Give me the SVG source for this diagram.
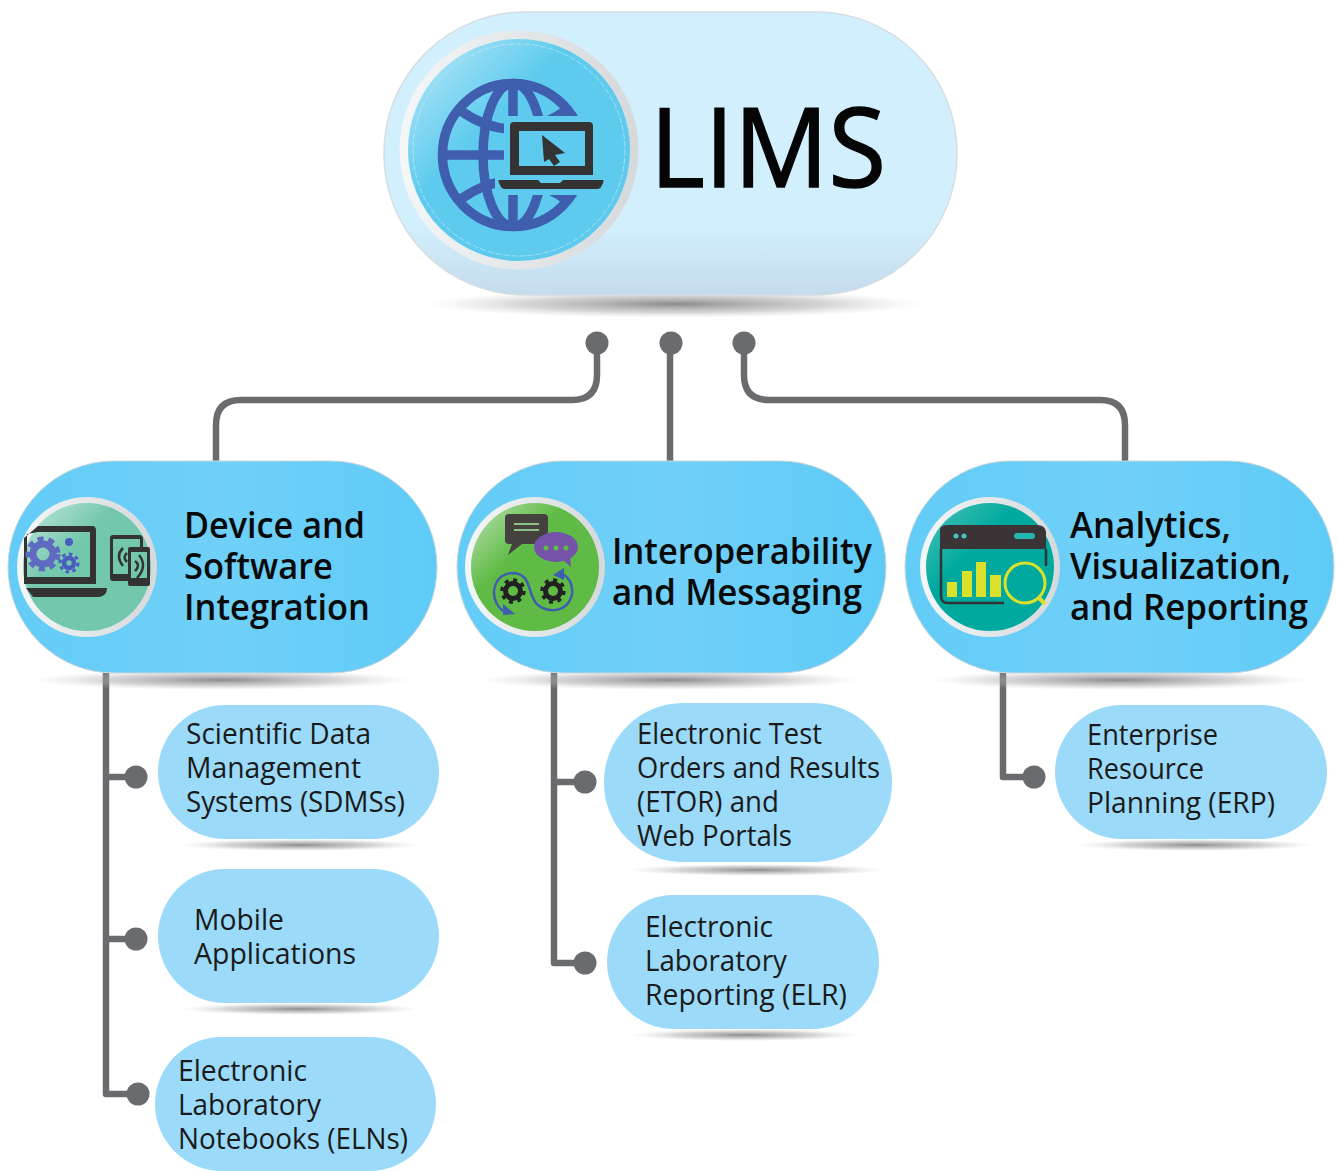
<svg xmlns="http://www.w3.org/2000/svg" width="1337" height="1171" viewBox="0 0 1337 1171">
<style>
text{font-family:"Open Sans","Noto Sans","Liberation Sans",sans-serif;fill:#0a0a0a}
.h{font-size:36px;font-weight:600}
.s{font-size:30px;font-weight:400;fill:#1a1a1a}
.c{fill:none;stroke:#6a6b6e;stroke-width:6.5;stroke-linejoin:round}
.d{fill:#6a6b6e}
.lv2{fill:url(#g2);stroke:#c9d3da;stroke-width:1}
.lv3{fill:#9bdaf9}
.dk{fill:#333}
</style>
<defs>
<linearGradient id="g1" x1="0" y1="0" x2="0" y2="1"><stop offset="0" stop-color="#d2effe"/><stop offset=".76" stop-color="#d2effe"/><stop offset="1" stop-color="#c4dbea"/></linearGradient>
<linearGradient id="g2" x1="0" y1="0" x2="1" y2="0"><stop offset="0" stop-color="#62ccf7"/><stop offset=".5" stop-color="#70d0f8"/><stop offset="1" stop-color="#5ecbf7"/></linearGradient>
<radialGradient id="sh"><stop offset="0" stop-color="#777" stop-opacity=".85"/><stop offset=".6" stop-color="#aaa" stop-opacity=".5"/><stop offset="1" stop-color="#ccc" stop-opacity="0"/></radialGradient>
<linearGradient id="gloss" x1="0" y1="0" x2=".75" y2=".75"><stop offset="0" stop-color="#fff" stop-opacity=".6"/><stop offset=".5" stop-color="#fff" stop-opacity="0"/></linearGradient>
<linearGradient id="rg" x1="0" y1="0" x2="1" y2="0"><stop offset="0" stop-color="#f4f6f7"/><stop offset="1" stop-color="#d5d9db"/></linearGradient>
</defs>

<g id="connectors">
<path class="c" d="M597 343V375Q597 400 572 400H241Q216 400 216 425V462"/>
<path class="c" d="M670 343V462"/>
<path class="c" d="M744 343V375Q744 400 769 400H1100Q1125 400 1125 425V462"/>
<circle class="d" cx="597" cy="343" r="11.5"/><circle class="d" cx="671" cy="343" r="11.5"/><circle class="d" cx="744" cy="343" r="11.5"/>
<path class="c" d="M106 673V1094H136M106 777H136M106 939H136"/>
<circle class="d" cx="136" cy="777" r="11.5"/><circle class="d" cx="136" cy="939" r="11.5"/><circle class="d" cx="138" cy="1094" r="11.5"/>
<path class="c" d="M554 673V963H585M554 782H585"/>
<circle class="d" cx="585" cy="782" r="11.5"/><circle class="d" cx="585" cy="963" r="11.5"/>
<path class="c" d="M1003 673V777H1034"/>
<circle class="d" cx="1034" cy="777" r="11.5"/>
</g>

<g id="lims">
<ellipse cx="675" cy="304" rx="250" ry="14" fill="url(#sh)"/>
<rect x="384" y="12" width="573" height="283" rx="141" fill="url(#g1)" stroke="#d5dde2" stroke-width="1.5"/>
<circle cx="519" cy="150" r="119.5" fill="url(#rg)"/>
<circle cx="519" cy="150" r="111" fill="#5ecbee"/>
<circle cx="519" cy="150" r="111" fill="url(#gloss)"/>
<circle cx="519" cy="150" r="106" fill="none" stroke="#bfe8f8" stroke-width=".7" stroke-dasharray="6 2"/>
<g fill="none" stroke="#3f5fae" stroke-width="9.5">
<ellipse cx="513" cy="155" rx="70.5" ry="71.5"/>
<ellipse cx="513" cy="155" rx="30" ry="71.5"/>
<path d="M513 84V226M443 155H513M461 111Q487 129 513 129T565 111M461 199Q487 181 513 181T565 199"/>
</g>
<path fill="#5ecbee" d="M504 116H600V195H495V176H504Z"/>
<path class="dk" fill-rule="evenodd" d="M514 122H589Q593 122 593 126V175H510V126Q510 122 514 122ZM519 131V166H585V131Z"/>
<path class="dk" d="M499 180H538L541 183H560L563 180H603Q604 180 603 183L601 187Q600 189 596 189H506Q502 189 501 187L499 183Q498 180 499 180Z"/>
<path class="dk" d="M542 135L565 153L555 155L560 162L554 166L549 159L544 162Z"/>
<text x="650" y="187" font-size="110" style="fill:#050505;font-size:110px;stroke:#050505;stroke-width:1.6px" textLength="236" lengthAdjust="spacingAndGlyphs">LIMS</text>
</g>

<g id="device">
<ellipse cx="222" cy="680" rx="190" ry="10" fill="url(#sh)"/>
<rect class="lv2" x="8" y="461" width="429" height="212" rx="106"/>
<circle cx="87" cy="567" r="70" fill="url(#rg)"/>
<circle cx="87" cy="567" r="64" fill="#73c7ad"/><circle cx="87" cy="567" r="64" fill="url(#gloss)"/>
<path class="dk" fill-rule="evenodd" d="M38 526H92Q96 526 96 530V584H24V538ZM27 534V577H90V532H38Z"/>
<path class="dk" d="M26 588H107Q107 596 99 597H33Z"/>
<circle cx="43" cy="554" r="10" fill="none" stroke="#5e6bc0" stroke-width="7"/>
<circle cx="43" cy="554" r="15" fill="none" stroke="#5e6bc0" stroke-width="5" stroke-dasharray="6 4.8"/>
<circle cx="69" cy="563" r="5" fill="none" stroke="#4a5cc0" stroke-width="4.5"/>
<circle cx="69" cy="563" r="9" fill="none" stroke="#4a5cc0" stroke-width="3" stroke-dasharray="3.5 3.5"/>
<circle cx="69" cy="542" r="4" fill="#4a5cc0"/>
<path class="dk" fill-rule="evenodd" d="M113 535H139Q143 535 143 539V581H113Q110 581 110 578V538Q110 535 113 535ZM113 539V574H140V539Z"/>
<rect x="128" y="547" width="22" height="39" rx="2" class="dk"/>
<rect x="131" y="552" width="16" height="26" fill="#73c7ad"/>
<path fill="none" stroke="#333" stroke-width="2.5" d="M123 548Q115 556 123 566M127 553Q122 557 127 562M135 561Q141 565 135 571M139 555Q148 566 137 578"/>
<text class="h" x="184" y="538" textLength="181" lengthAdjust="spacingAndGlyphs">Device and</text>
<text class="h" x="184" y="579" textLength="149" lengthAdjust="spacingAndGlyphs">Software</text>
<text class="h" x="184" y="620" textLength="186" lengthAdjust="spacingAndGlyphs">Integration</text>
</g>

<g id="interop">
<ellipse cx="670" cy="680" rx="190" ry="10" fill="url(#sh)"/>
<rect class="lv2" x="457" y="461" width="429" height="212" rx="106"/>
<circle cx="535" cy="567" r="70" fill="url(#rg)"/>
<circle cx="535" cy="567" r="64" fill="#5fbb46"/><circle cx="535" cy="567" r="64" fill="url(#gloss)"/>
<path d="M509 514H544Q548 514 548 518V540Q548 544 544 544H522L508 555L512 544H509Q505 544 505 540V518Q505 514 509 514Z" fill="#45413f"/>
<path d="M514 524H539M514 530H539" stroke="#8cc084" stroke-width="2"/>
<ellipse cx="556" cy="547" rx="22" ry="15" fill="#7453a8"/>
<path d="M562 559L571 567L570 556Z" fill="#7453a8"/>
<circle cx="546" cy="548" r="2.5" fill="#5fbb46"/><circle cx="556" cy="548" r="2.5" fill="#5fbb46"/><circle cx="566" cy="548" r="2.5" fill="#5fbb46"/>
<g fill="none" stroke="#222">
<circle cx="513" cy="591" r="7.5" stroke-width="5"/><circle cx="513" cy="591" r="11" stroke-width="3.5" stroke-dasharray="4 4.6"/>
<circle cx="553" cy="591" r="7.5" stroke-width="5"/><circle cx="553" cy="591" r="11" stroke-width="3.5" stroke-dasharray="4 4.6"/>
</g>
<path fill="none" stroke="#3f5fae" stroke-width="2.5" d="M507 613C488 605 490 574 512 573C530 573 528 590 534 600C540 613 568 616 572 594C573 585 569 578 563 574"/>
<path fill="#3f5fae" d="M503 604L515 614L503 615ZM553 575L564 568L564 580Z"/>
<text class="h" x="612" y="564" textLength="260" lengthAdjust="spacingAndGlyphs">Interoperability</text>
<text class="h" x="612" y="605" textLength="250" lengthAdjust="spacingAndGlyphs">and Messaging</text>
</g>

<g id="analytics">
<ellipse cx="1120" cy="680" rx="190" ry="10" fill="url(#sh)"/>
<rect class="lv2" x="905" y="461" width="429" height="212" rx="106"/>
<circle cx="990" cy="567" r="70" fill="url(#rg)"/>
<circle cx="990" cy="567" r="64" fill="#00a99d"/><circle cx="990" cy="567" r="64" fill="url(#gloss)" opacity=".5"/>
<path d="M940 549V530Q940 525 948 525H1037Q1045 525 1046 532V549Z" fill="#3a3436"/>
<circle cx="956" cy="536" r="2.5" fill="#4cc4be"/><circle cx="964" cy="536" r="2.5" fill="#4cc4be"/>
<rect x="1014" y="533" width="21" height="6" rx="3" fill="#24b5ad"/>
<path d="M941 549V596Q941 603 948 603H1004M1046 549V566" fill="none" stroke="#333" stroke-width="2.5"/>
<g fill="#dbe02c"><rect x="947" y="582" width="10" height="15"/><rect x="962" y="571" width="10" height="26"/><rect x="976" y="562" width="10" height="35"/><rect x="990" y="575" width="11" height="22"/></g>
<circle cx="1025" cy="583" r="20" fill="none" stroke="#dbe02c" stroke-width="3"/>
<path d="M1039 598L1045 604" stroke="#dbe02c" stroke-width="4"/>
<text class="h" x="1070" y="538" textLength="161" lengthAdjust="spacingAndGlyphs">Analytics,</text>
<text class="h" x="1070" y="579" textLength="221" lengthAdjust="spacingAndGlyphs">Visualization,</text>
<text class="h" x="1070" y="620" textLength="238" lengthAdjust="spacingAndGlyphs">and Reporting</text>
</g>

<g id="sdms">
<ellipse cx="300" cy="845" rx="120" ry="6" fill="url(#sh)"/>
<rect class="lv3" x="158" y="705" width="281" height="134" rx="67"/>
<text class="s" x="186" y="744" textLength="185" lengthAdjust="spacingAndGlyphs">Scientific Data</text>
<text class="s" x="186" y="778" textLength="175" lengthAdjust="spacingAndGlyphs">Management</text>
<text class="s" x="186" y="812" textLength="219" lengthAdjust="spacingAndGlyphs">Systems (SDMSs)</text>
</g>
<g id="mobile">
<ellipse cx="300" cy="1009" rx="120" ry="6" fill="url(#sh)"/>
<rect class="lv3" x="158" y="869" width="281" height="134" rx="67"/>
<text class="s" x="194" y="930" textLength="90" lengthAdjust="spacingAndGlyphs">Mobile</text>
<text class="s" x="194" y="964" textLength="162" lengthAdjust="spacingAndGlyphs">Applications</text>
</g>
<g id="eln">
<rect class="lv3" x="155" y="1037" width="281" height="134" rx="67"/>
<text class="s" x="178" y="1081" textLength="129" lengthAdjust="spacingAndGlyphs">Electronic</text>
<text class="s" x="178" y="1115" textLength="143" lengthAdjust="spacingAndGlyphs">Laboratory</text>
<text class="s" x="178" y="1149" textLength="230" lengthAdjust="spacingAndGlyphs">Notebooks (ELNs)</text>
</g>
<g id="etor">
<ellipse cx="757" cy="870" rx="130" ry="6" fill="url(#sh)"/>
<rect class="lv3" x="604" y="703" width="288" height="159" rx="79"/>
<text class="s" x="637" y="744" textLength="185" lengthAdjust="spacingAndGlyphs">Electronic Test</text>
<text class="s" x="637" y="778" textLength="243" lengthAdjust="spacingAndGlyphs">Orders and Results</text>
<text class="s" x="637" y="812" textLength="142" lengthAdjust="spacingAndGlyphs">(ETOR) and</text>
<text class="s" x="637" y="846" textLength="155" lengthAdjust="spacingAndGlyphs">Web Portals</text>
</g>
<g id="elr">
<ellipse cx="745" cy="1035" rx="115" ry="6" fill="url(#sh)"/>
<rect class="lv3" x="607" y="895" width="272" height="134" rx="67"/>
<text class="s" x="645" y="937" textLength="128" lengthAdjust="spacingAndGlyphs">Electronic</text>
<text class="s" x="645" y="971" textLength="142" lengthAdjust="spacingAndGlyphs">Laboratory</text>
<text class="s" x="645" y="1005" textLength="202" lengthAdjust="spacingAndGlyphs">Reporting (ELR)</text>
</g>
<g id="erp">
<ellipse cx="1195" cy="845" rx="118" ry="6" fill="url(#sh)"/>
<rect class="lv3" x="1055" y="705" width="272" height="134" rx="67"/>
<text class="s" x="1087" y="745" textLength="131" lengthAdjust="spacingAndGlyphs">Enterprise</text>
<text class="s" x="1087" y="779" textLength="117" lengthAdjust="spacingAndGlyphs">Resource</text>
<text class="s" x="1087" y="813" textLength="188" lengthAdjust="spacingAndGlyphs">Planning (ERP)</text>
</g>
</svg>
